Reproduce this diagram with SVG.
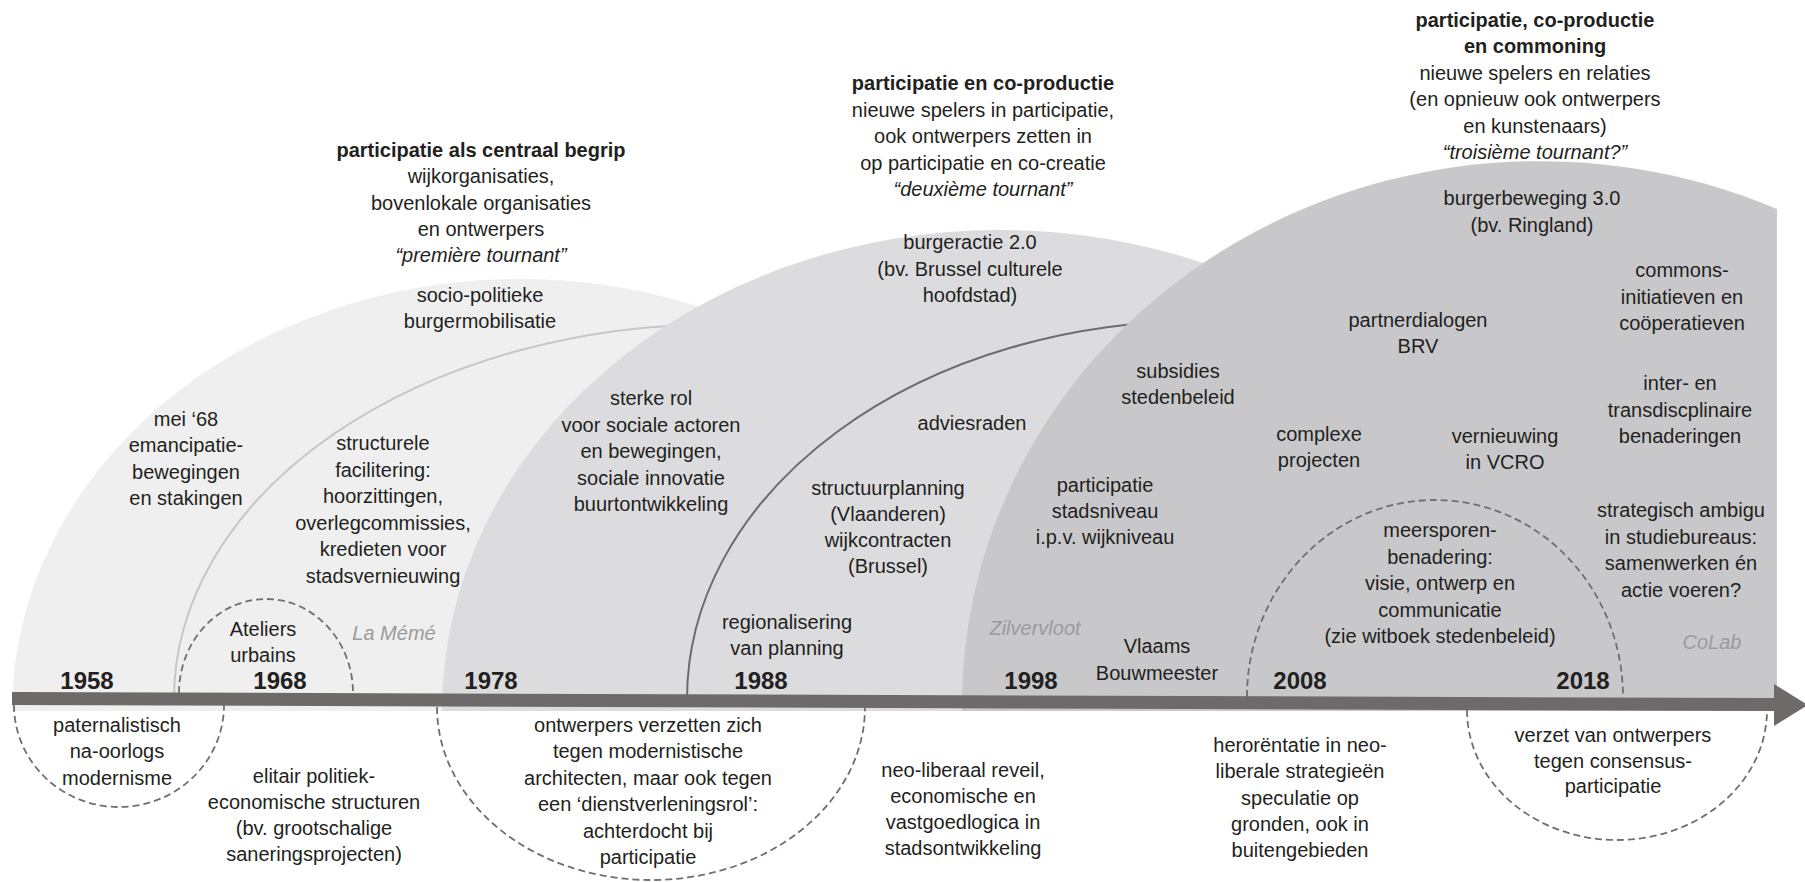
<svg xmlns="http://www.w3.org/2000/svg" width="1805" height="882" viewBox="0 0 1805 882">
<style>
text{font-family:"Liberation Sans",Arial,sans-serif;font-size:20px;fill:#231f20;text-anchor:middle}
.b{font-weight:bold}
.i{font-style:italic}
.g{font-style:italic;fill:#9b9b9b}
.yr{font-weight:bold;font-size:24px}
.dash{fill:none;stroke:#6f6f6f;stroke-width:1.8;stroke-dasharray:7 4}
</style>
<rect width="1805" height="882" fill="#ffffff"/>
<g id="eras">
<path id="era1" d="M 12 711 A 508 432 0 0 1 1028 711 Z" fill="#efefef"/>
<path id="arc1" d="M 174 699 A 546 375 0 0 1 1266 699" fill="none" stroke="#c6c6c6" stroke-width="2"/>
<path id="era2" d="M 442 711 A 558 481 0 0 1 1558 711 Z" fill="#dcdcde"/>
<path id="arc2" d="M 687 699 A 513 378 0 0 1 1713 699" fill="none" stroke="#6e6b6b" stroke-width="2"/>
<path id="era3" d="M 962 711 A 578 544 0 0 1 1777 209 L 1777 711 Z" fill="#c8c8ca"/>
</g>
<g id="circles">
<path class="dash" d="M 179 693 A 87 94 0 0 1 353 693"/>
<path class="dash" d="M 14 705 A 105 102 0 0 0 224 705"/>
<path class="dash" d="M 437 707 A 214 173 0 0 0 865 707"/>
<path class="dash" d="M 1247 697 A 188 197 0 0 1 1623 697"/>
<path class="dash" d="M 1467 710 A 150 130 0 0 0 1767 710"/>
</g>
<g id="timeline">
<polygon points="12,692 1775,698 1775,711 12,705" fill="#6e6a6a"/>
<polygon points="1774,684 1808,705 1774,726" fill="#6e6a6a"/>
</g>
<g id="years">
<text class="yr" x="87" y="689">1958</text>
<text class="yr" x="280" y="689">1968</text>
<text class="yr" x="491" y="689">1978</text>
<text class="yr" x="761" y="689">1988</text>
<text class="yr" x="1031" y="689">1998</text>
<text class="yr" x="1300" y="689">2008</text>
<text class="yr" x="1583" y="689">2018</text>
</g>
<g id="heading1">
<text x="481" y="157"><tspan class="b">participatie als centraal begrip</tspan><tspan x="481" dy="26.3">wijkorganisaties,</tspan><tspan x="481" dy="26.3">bovenlokale organisaties</tspan><tspan x="481" dy="26.3">en ontwerpers</tspan><tspan x="481" dy="26.3" class="i">“première tournant”</tspan></text>
</g>
<g id="heading2">
<text x="983" y="90"><tspan class="b">participatie en co-productie</tspan><tspan x="983" dy="26.5">nieuwe spelers in participatie,</tspan><tspan x="983" dy="26.5">ook ontwerpers zetten in</tspan><tspan x="983" dy="26.5">op participatie en co-creatie</tspan><tspan x="983" dy="26.5" class="i">“deuxième tournant”</tspan></text>
</g>
<g id="heading3">
<text x="1535" y="27"><tspan class="b">participatie, co-productie</tspan><tspan x="1535" dy="26.4" class="b">en commoning</tspan><tspan x="1535" dy="26.4">nieuwe spelers en relaties</tspan><tspan x="1535" dy="26.4">(en opnieuw ook ontwerpers</tspan><tspan x="1535" dy="26.4">en kunstenaars)</tspan><tspan x="1535" dy="26.4" class="i">“troisième tournant?”</tspan></text>
</g>
<g id="n-socio"><text x="480" y="302">socio-politieke<tspan x="480" dy="26.3">burgermobilisatie</tspan></text></g>
<g id="n-mei68"><text x="186" y="426">mei ‘68<tspan x="186" dy="26.3">emancipatie-</tspan><tspan x="186" dy="26.3">bewegingen</tspan><tspan x="186" dy="26.3">en stakingen</tspan></text></g>
<g id="n-structurele"><text x="383" y="450">structurele<tspan x="383" dy="26.5">facilitering:</tspan><tspan x="383" dy="26.5">hoorzittingen,</tspan><tspan x="383" dy="26.5">overlegcommissies,</tspan><tspan x="383" dy="26.5">kredieten voor</tspan><tspan x="383" dy="26.5">stadsvernieuwing</tspan></text></g>
<g id="n-ateliers"><text x="263" y="636">Ateliers<tspan x="263" dy="26.3">urbains</tspan></text></g>
<g id="n-lameme"><text class="g" x="394" y="640">La Mémé</text></g>
<g id="n-paternalistisch"><text x="117" y="732">paternalistisch<tspan x="117" dy="26.3">na-oorlogs</tspan><tspan x="117" dy="26.3">modernisme</tspan></text></g>
<g id="n-elitair"><text x="314" y="783">elitair politiek-<tspan x="314" dy="26">economische structuren</tspan><tspan x="314" dy="26">(bv. grootschalige</tspan><tspan x="314" dy="26">saneringsprojecten)</tspan></text></g>
<g id="n-ontwerpers"><text x="648" y="732">ontwerpers verzetten zich<tspan x="648" dy="26.4">tegen modernistische</tspan><tspan x="648" dy="26.4">architecten, maar ook tegen</tspan><tspan x="648" dy="26.4">een ‘dienstverleningsrol’:</tspan><tspan x="648" dy="26.4">achterdocht bij</tspan><tspan x="648" dy="26.4">participatie</tspan></text></g>
<g id="n-sterke"><text x="651" y="405">sterke rol<tspan x="651" dy="26.5">voor sociale actoren</tspan><tspan x="651" dy="26.5">en bewegingen,</tspan><tspan x="651" dy="26.5">sociale innovatie</tspan><tspan x="651" dy="26.5">buurtontwikkeling</tspan></text></g>
<g id="n-burgeractie"><text x="970" y="249">burgeractie 2.0<tspan x="970" dy="26.5">(bv. Brussel culturele</tspan><tspan x="970" dy="26.5">hoofdstad)</tspan></text></g>
<g id="n-adviesraden"><text x="972" y="430">adviesraden</text></g>
<g id="n-structuurplanning"><text x="888" y="495">structuurplanning<tspan x="888" dy="26">(Vlaanderen)</tspan><tspan x="888" dy="26">wijkcontracten</tspan><tspan x="888" dy="26">(Brussel)</tspan></text></g>
<g id="n-regionalisering"><text x="787" y="629">regionalisering<tspan x="787" dy="26">van planning</tspan></text></g>
<g id="n-subsidies"><text x="1178" y="378">subsidies<tspan x="1178" dy="26">stedenbeleid</tspan></text></g>
<g id="n-stadsniveau"><text x="1105" y="492">participatie<tspan x="1105" dy="26">stadsniveau</tspan><tspan x="1105" dy="26">i.p.v. wijkniveau</tspan></text></g>
<g id="n-zilvervloot"><text class="g" x="1035" y="635">Zilvervloot</text></g>
<g id="n-bouwmeester"><text x="1157" y="653">Vlaams<tspan x="1157" dy="27">Bouwmeester</tspan></text></g>
<g id="n-neoliberaal"><text x="963" y="777">neo-liberaal reveil,<tspan x="963" dy="26">economische en</tspan><tspan x="963" dy="26">vastgoedlogica in</tspan><tspan x="963" dy="26">stadsontwikkeling</tspan></text></g>
<g id="n-burgerbeweging"><text x="1532" y="205">burgerbeweging 3.0<tspan x="1532" dy="27">(bv. Ringland)</tspan></text></g>
<g id="n-partnerdialogen"><text x="1418" y="327">partnerdialogen<tspan x="1418" dy="26">BRV</tspan></text></g>
<g id="n-commons"><text x="1682" y="277">commons-<tspan x="1682" dy="26.5">initiatieven en</tspan><tspan x="1682" dy="26.5">coöperatieven</tspan></text></g>
<g id="n-inter"><text x="1680" y="390">inter- en<tspan x="1680" dy="26.5">transdiscplinaire</tspan><tspan x="1680" dy="26.5">benaderingen</tspan></text></g>
<g id="n-complexe"><text x="1319" y="441">complexe<tspan x="1319" dy="26">projecten</tspan></text></g>
<g id="n-vcro"><text x="1505" y="443">vernieuwing<tspan x="1505" dy="25.5">in VCRO</tspan></text></g>
<g id="n-meersporen"><text x="1440" y="537">meersporen-<tspan x="1440" dy="26.5">benadering:</tspan><tspan x="1440" dy="26.5">visie, ontwerp en</tspan><tspan x="1440" dy="26.5">communicatie</tspan><tspan x="1440" dy="26.5">(zie witboek stedenbeleid)</tspan></text></g>
<g id="n-strategisch"><text x="1681" y="517">strategisch ambigu<tspan x="1681" dy="26.7">in studiebureaus:</tspan><tspan x="1681" dy="26.7">samenwerken én</tspan><tspan x="1681" dy="26.7">actie voeren?</tspan></text></g>
<g id="n-colab"><text class="g" x="1712" y="649">CoLab</text></g>
<g id="n-heroriëntatie"><text x="1300" y="752">herorëntatie in neo-<tspan x="1300" dy="26.3">liberale strategieën</tspan><tspan x="1300" dy="26.3">speculatie op</tspan><tspan x="1300" dy="26.3">gronden, ook in</tspan><tspan x="1300" dy="26.3">buitengebieden</tspan></text></g>
<g id="n-verzet"><text x="1613" y="742">verzet van ontwerpers<tspan x="1613" dy="25.5">tegen consensus-</tspan><tspan x="1613" dy="25.5">participatie</tspan></text></g>
</svg>
